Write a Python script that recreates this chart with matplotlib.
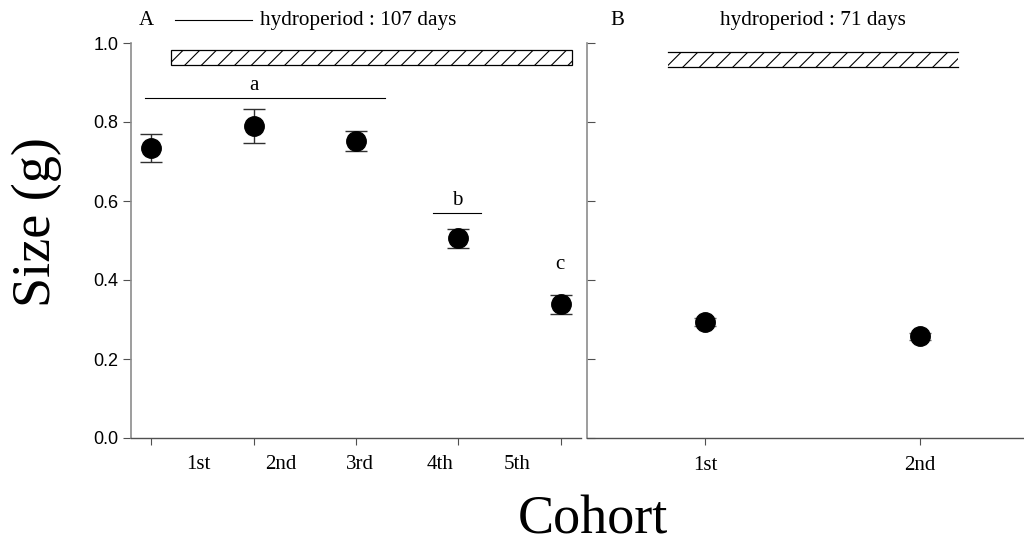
import matplotlib
matplotlib.use("Agg")
import matplotlib.pyplot as plt
from matplotlib.patches import Rectangle

# ---------------- data ----------------
cohorts_a = ["1st", "2nd", "3rd", "4th", "5th"]
size_a = [0.735, 0.791, 0.752, 0.506, 0.339]
err_a = [0.035, 0.043, 0.026, 0.024, 0.024]

cohorts_b = ["1st", "2nd"]
size_b = [0.294, 0.257]
err_b = [0.010, 0.010]

hydro_a = "hydroperiod : 107 days"
hydro_b = "hydroperiod : 71 days"
yticks = [0.0, 0.2, 0.4, 0.6, 0.8, 1.0]

# ---------------- style ----------------
SERIF = ["Liberation Serif", "DejaVu Serif"]
SANS = ["Liberation Sans", "DejaVu Sans"]
plt.rcParams["hatch.linewidth"] = 0.8

W, H = 1024, 545
fig = plt.figure(figsize=(W / 100, H / 100), dpi=100)

def pax(l, r, t, b):
    return [l / W, 1 - b / H, (r - l) / W, (b - t) / H]

axA = fig.add_axes(pax(131, 581, 43, 438))
axB = fig.add_axes(pax(587, 1024, 43, 438))

for ax in (axA, axB):
    ax.set_ylim(0, 1.0)
    ax.spines["top"].set_visible(False)
    ax.spines["right"].set_visible(False)
    ax.spines["left"].set_color("#8c8c8c")
    ax.spines["bottom"].set_color("#505050")
    ax.spines["left"].set_linewidth(1.2)
    ax.spines["bottom"].set_linewidth(1.0)
    ax.set_yticks(yticks)

# ---------- Panel A ----------
xa = list(range(len(size_a)))
axA.set_xlim(-0.196, 4.196)
axA.errorbar(xa, size_a, yerr=err_a, fmt="o", color="black", ms=14,
             ecolor="#303030", elinewidth=1.0, capsize=8, capthick=1.0, zorder=3)
axA.set_xticks(xa)
axA.set_xticklabels([])
axA.tick_params(axis="x", direction="out", length=5, color="#505050")
axA.tick_params(axis="y", direction="out", length=6, color="#505050", pad=3,
                labelsize=13)
axA.set_yticklabels([f"{v:.1f}" for v in yticks])
for lab in axA.get_yticklabels():
    lab.set_fontfamily(SANS)
    lab.set_color("black")

label_pos_a = [0.46, 1.265, 2.04, 2.824, 3.57]
for xp, lab in zip(label_pos_a, cohorts_a):
    axA.text(xp, -0.066, lab, transform=axA.get_xaxis_transform(),
             ha="center", va="center", fontsize=15, family=SERIF)

axA.add_patch(Rectangle((0.196, 0.944), 4.108 - 0.196, 0.982 - 0.944,
                        facecolor="white", edgecolor="black", hatch="//",
                        linewidth=0.9, zorder=2))

# significance letters
axA.plot([-0.06, 2.28], [0.861, 0.861], color="black", lw=0.8)
axA.text(1.0, 0.893, "a", ha="center", va="center", fontsize=15, family=SERIF)
axA.plot([2.75, 3.22], [0.569, 0.569], color="black", lw=0.8)
axA.text(2.99, 0.601, "b", ha="center", va="center", fontsize=15, family=SERIF)
axA.text(3.99, 0.438, "c", ha="center", va="center", fontsize=15, family=SERIF)

axA.text(0.034, 1.058, "A", transform=axA.transAxes, ha="center", va="center",
         fontsize=15, family=SERIF)
axA.plot([0.098, 0.269], [1.058, 1.058], transform=axA.transAxes,
         color="black", lw=0.8, clip_on=False)
axA.text(0.287, 1.058, hydro_a, transform=axA.transAxes, ha="left",
         va="center", fontsize=15.3, family=SERIF)

# ---------- Panel B ----------
xb = list(range(len(size_b)))
axB.set_xlim(-0.549, 1.484)
axB.errorbar(xb, size_b, yerr=err_b, fmt="o", color="black", ms=14,
             ecolor="#606060", elinewidth=1.0, capsize=8, capthick=1.0, zorder=3)
axB.set_xticks(xb)
axB.set_xticklabels(cohorts_b, fontsize=15, family=SERIF)
axB.tick_params(axis="x", direction="out", length=5, color="#505050", pad=8)
axB.tick_params(axis="y", direction="in", length=6, color="#505050",
                labelleft=False)

axB.add_patch(Rectangle((-0.172, 0.939), 1.177 + 0.172, 0.977 - 0.939,
                        facecolor="white", edgecolor="black", hatch="//",
                        linewidth=0, zorder=2))
axB.plot([-0.172, 1.177], [0.977, 0.977], color="black", lw=0.9, zorder=3)
axB.plot([-0.172, 1.177], [0.939, 0.939], color="black", lw=0.9, zorder=3)

axB.text(0.069, 1.058, "B", transform=axB.transAxes, ha="center", va="center",
         fontsize=15, family=SERIF)
axB.text(0.517, 1.058, hydro_b, transform=axB.transAxes, ha="center",
         va="center", fontsize=15.3, family=SERIF)

# ---------- axis titles ----------
fig.text(37 / W, 1 - 222 / H, "Size (g)", rotation=90, ha="center",
         va="center", fontsize=39, family=SERIF)
fig.text(593 / W, 1 - 520 / H, "Cohort", ha="center", va="center",
         fontsize=39, family=SERIF)

fig.savefig("out.png", dpi=100)
